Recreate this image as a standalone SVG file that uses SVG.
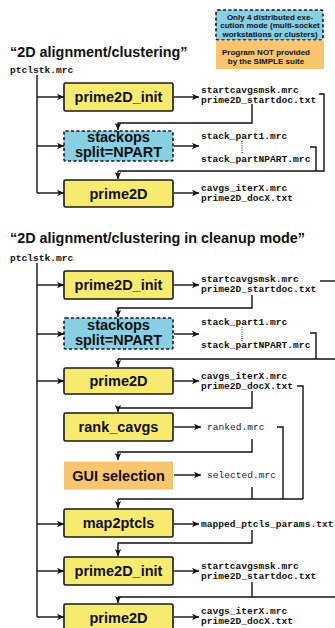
<svg xmlns="http://www.w3.org/2000/svg" width="335" height="628" viewBox="0 0 335 628">
  <defs>
    <marker id="arr" markerUnits="userSpaceOnUse" markerWidth="8" markerHeight="8" viewBox="0 0 8 8" refX="7" refY="4" orient="auto">
      <path d="M0,0.8 L7,4 L0,7.2 L1.8,4 z" fill="#111"/>
    </marker>
    <style>
      .box { stroke: #1a1a1a; stroke-width: 1.6; }
      .prog { fill: #F6EB6E; }
      .dist { fill: #89CFE3; stroke-dasharray: 3.2 2.2; }
      .ext { fill: #F9C46E; stroke: none; }
      .lbl { font-family: "Liberation Sans", Arial, sans-serif; font-weight: bold; font-size: 14.5px; fill: #111; text-anchor: middle; }
      .title { font-family: "Liberation Sans", Arial, sans-serif; font-weight: bold; font-size: 14.4px; fill: #111; }
      .leg { font-family: "Liberation Sans", Arial, sans-serif; font-weight: bold; font-size: 8px; fill: #111; text-anchor: middle; }
      .file { font-family: "Liberation Mono", "Courier New", monospace; font-weight: bold; font-size: 9.6px; fill: #111; }
      .file2 { font-family: "Liberation Mono", "Courier New", monospace; font-size: 9.6px; fill: #222; }
      .ln { fill: none; stroke: #111; stroke-width: 1.4; }
      .ar { fill: none; stroke: #111; stroke-width: 1.4; marker-end: url(#arr); }
      .dot { fill: none; stroke: #111; stroke-width: 1; stroke-dasharray: 1 1.2; }
    </style>
  </defs>

  <!-- legend -->
  <g id="legend-distributed">
    <rect class="box dist" x="216" y="10" width="107" height="30" rx="1.5"/>
    <text class="leg" x="270" y="20">Only 4 distributed exe-</text>
    <text class="leg" x="270" y="28">cution mode (multi-socket</text>
    <text class="leg" x="270" y="36.5">workstations or clusters)</text>
  </g>
  <g id="legend-external">
    <rect class="ext" x="216" y="40.5" width="108" height="28.5"/>
    <text class="leg" x="266" y="54.5">Program NOT provided</text>
    <text class="leg" x="266" y="63.5">by the SIMPLE suite</text>
  </g>

  <!-- section 1 -->
  <text class="title" x="10" y="57">“2D alignment/clustering”</text>
  <text class="file" x="10" y="73">ptclstk.mrc</text>

  <g id="s1-prime2D_init">
    <rect class="box prog" x="64" y="83" width="109" height="28" rx="1.5"/>
    <text class="lbl" x="118.5" y="102">prime2D_init</text>
  </g>
  <g id="s1-stackops">
    <rect class="box dist" x="64" y="131" width="109" height="30" rx="1.5"/>
    <text class="lbl" x="118.5" y="142">stackops</text>
    <text class="lbl" x="118.5" y="157">split=NPART</text>
  </g>
  <g id="s1-prime2D">
    <rect class="box prog" x="64" y="180" width="109" height="27" rx="1.5"/>
    <text class="lbl" x="118.5" y="198.5">prime2D</text>
  </g>

  <g id="s1-files">
    <text class="file" x="201" y="93">startcavgsmsk.mrc</text>
    <text class="file" x="201" y="102.5">prime2D_startdoc.txt</text>
    <text class="file" x="201" y="138.5">stack_part1.mrc</text>
    <text class="file" x="201" y="161.5">stack_partNPART.mrc</text>
    <text class="file" x="201" y="190.5">cavgs_iterX.mrc</text>
    <text class="file" x="201" y="200.5">prime2D_docX.txt</text>
  </g>

  <g id="s1-connectors">
    <path class="ln" d="M37,75 V193"/>
    <path class="ar" d="M37,97 H64"/>
    <path class="ar" d="M37,146 H64"/>
    <path class="ar" d="M37,193 H64"/>
    <path class="ar" d="M174,97 H199"/>
    <path class="ar" d="M174,146 H199"/>
    <path class="ar" d="M174,193 H199"/>
    <path class="ar" d="M252,104 V123 H118 V130"/>
    <path class="ln" d="M319,94 H324 V171 H118"/>
    <path class="ar" d="M118,171 V179"/>
    <path class="ln" d="M310,147 H316 V171"/>
    <path class="dot" d="M242,141 V154"/>
  </g>

  <!-- section 2 -->
  <text class="title" x="10" y="243">“2D alignment/clustering in cleanup mode”</text>
  <text class="file" x="10" y="261">ptclstk.mrc</text>

  <g id="s2-prime2D_init">
    <rect class="box prog" x="64" y="271" width="109" height="28" rx="1.5"/>
    <text class="lbl" x="118.5" y="290">prime2D_init</text>
  </g>
  <g id="s2-stackops">
    <rect class="box dist" x="64" y="318" width="109" height="31" rx="1.5"/>
    <text class="lbl" x="118.5" y="329.5">stackops</text>
    <text class="lbl" x="118.5" y="344.5">split=NPART</text>
  </g>
  <g id="s2-prime2D">
    <rect class="box prog" x="64" y="368" width="109" height="26" rx="1.5"/>
    <text class="lbl" x="118.5" y="386">prime2D</text>
  </g>
  <g id="s2-rank_cavgs">
    <rect class="box prog" x="64" y="413" width="109" height="28" rx="1.5"/>
    <text class="lbl" x="118.5" y="432">rank_cavgs</text>
  </g>
  <g id="s2-gui_selection">
    <rect class="ext" x="64" y="461.5" width="109" height="28"/>
    <text class="lbl" x="118.5" y="480.5">GUI selection</text>
  </g>
  <g id="s2-map2ptcls">
    <rect class="box prog" x="64" y="509" width="109" height="28" rx="1.5"/>
    <text class="lbl" x="118.5" y="528">map2ptcls</text>
  </g>
  <g id="s2-prime2D_init-2">
    <rect class="box prog" x="64" y="557" width="109" height="28" rx="1.5"/>
    <text class="lbl" x="118.5" y="576">prime2D_init</text>
  </g>
  <g id="s2-prime2D-2">
    <rect class="box prog" x="64" y="604" width="109" height="27" rx="1.5"/>
    <text class="lbl" x="118.5" y="622.5">prime2D</text>
  </g>

  <g id="s2-files">
    <text class="file" x="201" y="281.5">startcavgsmsk.mrc</text>
    <text class="file" x="201" y="292">prime2D_startdoc.txt</text>
    <text class="file" x="201" y="325">stack_part1.mrc</text>
    <text class="file" x="201" y="348">stack_partNPART.mrc</text>
    <text class="file" x="201" y="378.5">cavgs_iterX.mrc</text>
    <text class="file" x="201" y="388.5">prime2D_docX.txt</text>
    <text class="file2" x="207" y="430">ranked.mrc</text>
    <text class="file2" x="207" y="478">selected.mrc</text>
    <text class="file" x="201" y="527">mapped_ptcls_params.txt</text>
    <text class="file" x="201" y="569">startcavgsmsk.mrc</text>
    <text class="file" x="201" y="579">prime2D_startdoc.txt</text>
    <text class="file" x="201" y="614">cavgs_iterX.mrc</text>
    <text class="file" x="201" y="624">prime2D_docX.txt</text>
  </g>

  <g id="s2-connectors">
    <path class="ln" d="M37,263 V617"/>
    <path class="ar" d="M37,285 H64"/>
    <path class="ar" d="M37,334 H64"/>
    <path class="ar" d="M37,381 H64"/>
    <path class="ar" d="M37,524 H64"/>
    <path class="ar" d="M37,571 H64"/>
    <path class="ar" d="M37,617 H64"/>

    <path class="ar" d="M174,285 H199"/>
    <path class="ar" d="M174,334 H199"/>
    <path class="ar" d="M174,381 H199"/>
    <path class="ar" d="M174,427 H201"/>
    <path class="ar" d="M174,475 H201"/>
    <path class="ar" d="M174,524 H199"/>
    <path class="ar" d="M174,571 H199"/>
    <path class="ar" d="M174,617 H199"/>

    <path class="ln" d="M320,281 H336"/>
    <path class="ar" d="M252,295 V308 H118 V317"/>
    <path class="dot" d="M242,327 V341"/>
    <path class="ln" d="M310,333 H316 V359"/>
    <path class="ln" d="M336,359 H118"/>
    <path class="ar" d="M118,359 V367"/>

    <path class="ln" d="M297,386 H303 V499"/>
    <path class="ar" d="M252,391 V408 H118 V412"/>
    <path class="ln" d="M277,427 H283 V499"/>
    <path class="ar" d="M252,439 V452 H118 V460"/>
    <path class="ln" d="M252,487 V499"/>
    <path class="ln" d="M303,499 H118"/>
    <path class="ar" d="M118,499 V508"/>

    <path class="ar" d="M252,530 V543 H118 V556"/>
    <path class="ln" d="M252,582 V597"/>
    <path class="ln" d="M336,597 H118"/>
    <path class="ar" d="M118,597 V603"/>
  </g>
</svg>
